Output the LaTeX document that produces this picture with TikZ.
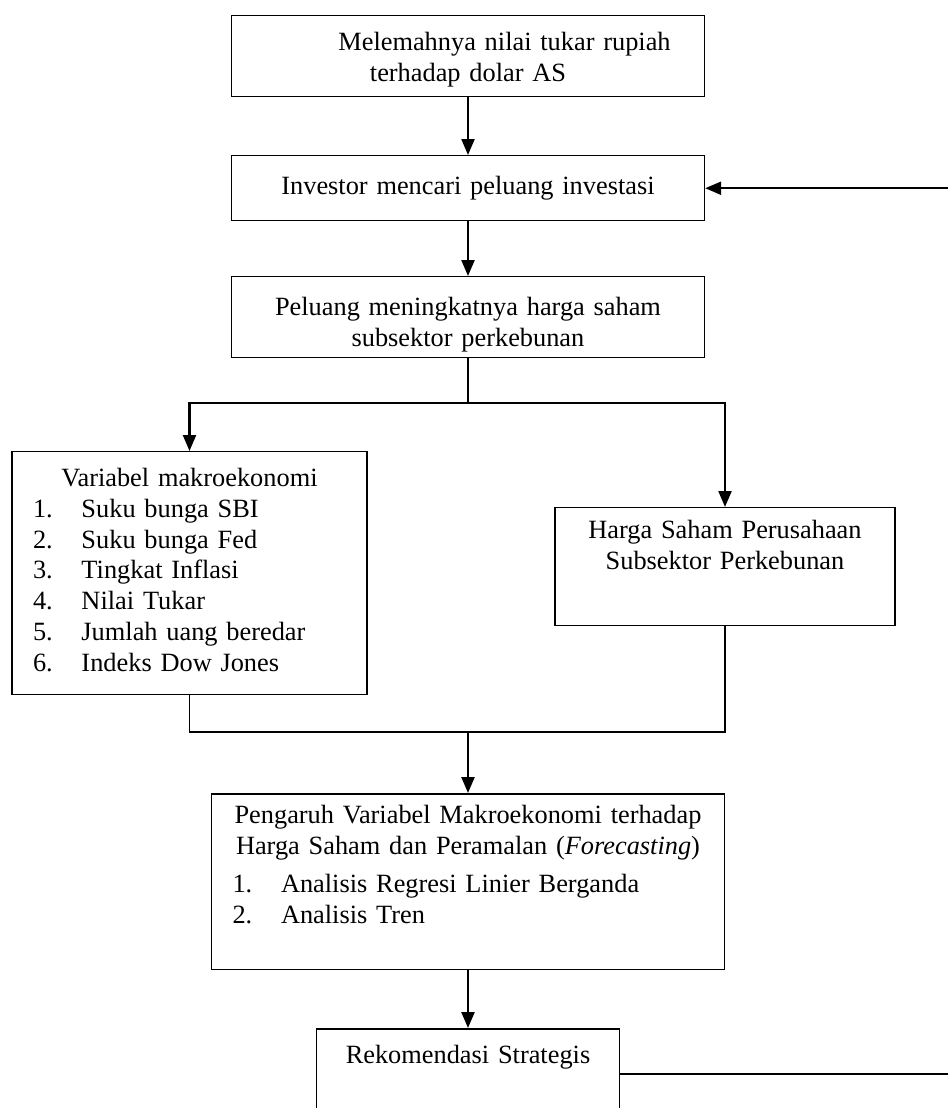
\documentclass[tikz,border=0pt]{standalone}
\usepackage{fontspec}
\setmainfont{Liberation Serif}
\usetikzlibrary{arrows.meta}
\newcommand{\butir}[2]{\hspace*{0.42cm}\makebox[0.97cm][l]{#1}#2}

\begin{document}
\begin{tikzpicture}[x=0.02cm, y=-0.02cm,
    every node/.style={font=\fontsize{15pt}{17.5pt}\selectfont},
    kotak/.style={draw, line width=0.85pt, inner sep=0pt, anchor=north, align=center},
    panah/.style={-{Triangle[width=0.26cm,length=0.32cm]}, line width=1.3pt},
    garis/.style={line width=1.1pt}
]
    \useasboundingbox (0,0) rectangle (947,1108);
    \node[kotak, text width=9.46cm, text height=0.70cm, text depth=0.92cm] (melemah) at (468,15) {\hspace*{1.46cm}Melemahnya nilai tukar rupiah\\terhadap dolar AS};
    \node[kotak, text width=9.46cm, text height=0.78cm, text depth=0.52cm] (investor) at (468,155) {Investor mencari peluang investasi};
    \node[kotak, text width=9.46cm, text height=0.78cm, text depth=0.84cm] (peluang) at (468,276) {Peluang meningkatnya harga saham\\subsektor perkebunan};
    \node[kotak, align=left, text width=7.1cm, text height=0.70cm, text depth=4.16cm] (makro) at (189.5,451) {{\centering Variabel makroekonomi\par}
        \butir{1.}{Suku bunga SBI}\\
        \butir{2.}{Suku bunga Fed}\\
        \butir{3.}{Tingkat Inflasi}\\
        \butir{4.}{Nilai Tukar}\\
        \butir{5.}{Jumlah uang beredar}\\
        \butir{6.}{Indeks Dow Jones}};
    \node[kotak, text width=6.8cm, text height=0.62cm, text depth=1.74cm] (harga) at (725,507) {Harga Saham Perusahaan\\Subsektor Perkebunan};
    \node[kotak, align=left, text width=10.26cm, text height=0.60cm, text depth=2.92cm] (pengaruh) at (468,793) {{\centering Pengaruh Variabel Makroekonomi terhadap\\Harga Saham dan Peramalan (\textit{Forecasting})\par}\vspace{0.15cm}
        \butir{1.}{Analisis Regresi Linier Berganda}\\
        \butir{2.}{Analisis Tren}};
    \node[kotak, text width=6.06cm, text height=0.70cm, text depth=1.94cm] (rekom) at (468,1028) {Rekomendasi Strategis};

    \coordinate (cabang) at (468,403);
    \coordinate (gabung) at (468,732);
    \coordinate (balik) at (965,600);

    \draw[panah] (melemah.south) -- (investor.north);
    \draw[panah] (investor.south) -- (peluang.north);
    \draw[garis] (peluang.south) -- (cabang);
    \draw[panah] (cabang) -| (makro.north);
    \draw[panah] (cabang) -| (harga.north);
    \draw[garis] (makro.south) |- (gabung);
    \draw[garis] (harga.south) |- (gabung);
    \draw[panah] (gabung) -- (pengaruh.north);
    \draw[panah] (pengaruh.south) -- (rekom.north);
    \draw[panah] ([yshift=-0.2cm]rekom.base east) -| (balik) |- (investor.east);
\end{tikzpicture}
\end{document}
